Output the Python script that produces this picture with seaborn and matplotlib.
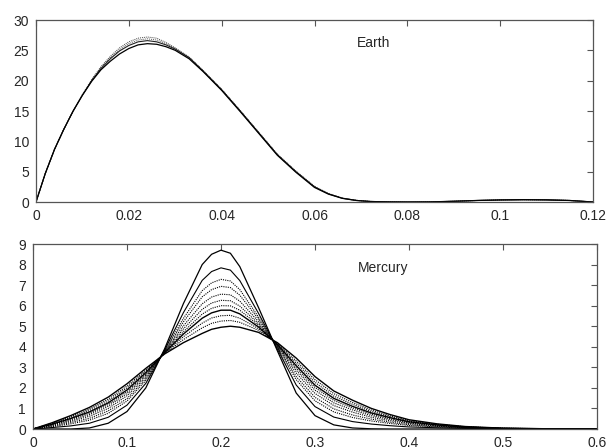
import matplotlib
matplotlib.use("Agg")
import matplotlib.pyplot as plt
import seaborn as sns

# Earth: eccentricity grid and a few curves from the band
earth_x = [0, 0.002, 0.004, 0.006, 0.008, 0.010, 0.012, 0.014, 0.016, 0.018,
           0.020, 0.022, 0.024, 0.026, 0.028, 0.030, 0.033, 0.036, 0.040, 0.044,
           0.048, 0.052, 0.056, 0.060, 0.063, 0.066, 0.069, 0.072, 0.076, 0.080,
           0.085, 0.090, 0.095, 0.100, 0.105, 0.110, 0.115, 0.120]
earth_low = [0, 4.7, 8.7, 12.0, 15.0, 17.6, 19.9, 21.8, 23.2, 24.4,
             25.3, 25.9, 26.1, 26.0, 25.6, 25.0, 23.6, 21.5, 18.4, 14.9,
             11.3, 7.7, 4.9, 2.4, 1.3, 0.6, 0.25, 0.08, 0.02, 0.0,
             0.02, 0.12, 0.25, 0.34, 0.38, 0.35, 0.25, 0.0]
earth_mid = [0, 4.7, 8.7, 12.0, 15.0, 17.6, 20.0, 22.0, 23.6, 24.9,
             25.8, 26.4, 26.6, 26.4, 25.9, 25.2, 23.8, 21.6, 18.5, 15.0,
             11.4, 7.8, 5.0, 2.5, 1.35, 0.62, 0.26, 0.09, 0.02, 0.0,
             0.02, 0.12, 0.25, 0.34, 0.38, 0.35, 0.25, 0.0]
earth_high = [0, 4.7, 8.7, 12.0, 15.0, 17.7, 20.2, 22.3, 24.0, 25.4,
              26.4, 27.0, 27.2, 27.0, 26.3, 25.4, 23.9, 21.7, 18.6, 15.1,
              11.5, 7.9, 5.1, 2.6, 1.4, 0.65, 0.28, 0.1, 0.03, 0.0,
              0.02, 0.12, 0.25, 0.34, 0.38, 0.35, 0.25, 0.0]
earth_upper = [0, 4.7, 8.7, 12.0, 15.0, 17.7, 20.1, 22.2, 23.8, 25.1,
               26.1, 26.7, 26.9, 26.7, 26.1, 25.3, 23.8, 21.6, 18.5, 15.0,
               11.4, 7.8, 5.0, 2.5, 1.35, 0.63, 0.27, 0.09, 0.02, 0.0,
               0.02, 0.12, 0.25, 0.34, 0.38, 0.35, 0.25, 0.0]

# Mercury: eccentricity grid and curves from tallest to widest
merc_x = [0, 0.02, 0.04, 0.06, 0.08, 0.10, 0.12, 0.14, 0.16, 0.18,
          0.19, 0.20, 0.21, 0.22, 0.24, 0.26, 0.28, 0.30, 0.32, 0.34,
          0.36, 0.38, 0.40, 0.43, 0.46, 0.50, 0.55, 0.60]
merc_a = [0, 0, 0, 0.05, 0.28, 0.85, 2.0, 3.9, 6.1, 8.0,
          8.5, 8.7, 8.55, 7.9, 5.9, 3.8, 1.75, 0.65, 0.2, 0.05,
          0.01, 0, 0, 0, 0, 0, 0, 0]
merc_b = [0, 0.07, 0.15, 0.28, 0.57, 1.16, 2.22, 3.84, 5.66, 7.23,
          7.66, 7.84, 7.73, 7.22, 5.62, 3.89, 2.14, 1.09, 0.58, 0.36,
          0.24, 0.16, 0.10, 0.06, 0.03, 0.01, 0, 0]
merc_c = [0, 0.11, 0.25, 0.43, 0.76, 1.36, 2.36, 3.8, 5.38, 6.73,
          7.11, 7.28, 7.2, 6.78, 5.44, 3.95, 2.4, 1.37, 0.83, 0.56,
          0.39, 0.27, 0.17, 0.1, 0.05, 0.02, 0, 0]
merc_d = [0, 0.14, 0.31, 0.52, 0.88, 1.48, 2.45, 3.78, 5.21, 6.43,
          6.78, 6.94, 6.88, 6.51, 5.34, 3.99, 2.55, 1.54, 0.98, 0.68,
          0.48, 0.33, 0.21, 0.12, 0.06, 0.02, 0, 0]
merc_e = [0, 0.17, 0.37, 0.62, 1.0, 1.62, 2.54, 3.76, 5.02, 6.09,
          6.42, 6.56, 6.53, 6.22, 5.22, 4.03, 2.72, 1.73, 1.14, 0.82,
          0.57, 0.4, 0.26, 0.14, 0.07, 0.02, 0.01, 0]
merc_f = [0, 0.2, 0.42, 0.7, 1.11, 1.73, 2.62, 3.74, 4.87, 5.82,
          6.13, 6.26, 6.24, 5.98, 5.12, 4.06, 2.86, 1.89, 1.27, 0.93,
          0.65, 0.46, 0.29, 0.16, 0.08, 0.03, 0.01, 0]
merc_g = [0, 0.22, 0.47, 0.77, 1.19, 1.82, 2.68, 3.72, 4.73, 5.59,
          5.87, 6.0, 5.99, 5.78, 5.04, 4.09, 2.97, 2.02, 1.39, 1.02,
          0.72, 0.5, 0.32, 0.18, 0.09, 0.03, 0.01, 0]
merc_h = [0, 0.23, 0.51, 0.83, 1.27, 1.9, 2.74, 3.71, 4.62, 5.39,
          5.65, 5.78, 5.78, 5.6, 4.96, 4.11, 3.08, 2.13, 1.49, 1.1,
          0.78, 0.55, 0.35, 0.2, 0.09, 0.03, 0.01, 0]
merc_i = [0, 0.26, 0.55, 0.9, 1.36, 2.0, 2.81, 3.69, 4.49, 5.15,
          5.4, 5.51, 5.53, 5.39, 4.88, 4.14, 3.2, 2.27, 1.6, 1.2,
          0.85, 0.6, 0.38, 0.21, 0.1, 0.03, 0.01, 0]
merc_j = [0, 0.28, 0.6, 0.97, 1.45, 2.09, 2.87, 3.67, 4.35, 4.92,
          5.14, 5.25, 5.28, 5.19, 4.8, 4.17, 3.31, 2.4, 1.72, 1.29,
          0.92, 0.64, 0.41, 0.23, 0.11, 0.04, 0.01, 0]
merc_l = [0, 0.3, 0.65, 1.05, 1.55, 2.2, 2.95, 3.65, 4.2, 4.65,
          4.85, 4.95, 5.0, 4.95, 4.7, 4.2, 3.45, 2.55, 1.85, 1.4,
          1.0, 0.7, 0.45, 0.25, 0.12, 0.04, 0.01, 0]

earth_ticks_x = [0, 0.02, 0.04, 0.06, 0.08, 0.1, 0.12]
earth_ticks_y = [0, 5, 10, 15, 20, 25, 30]
merc_ticks_x = [0, 0.1, 0.2, 0.3, 0.4, 0.5, 0.6]
merc_ticks_y = list(range(10))

sns.set_style("white")
plt.rcParams["font.family"] = ["Liberation Sans", "DejaVu Sans"]
plt.rcParams["font.size"] = 10

fig = plt.figure(figsize=(6.1, 4.48), dpi=100)
ax1 = fig.add_axes([36 / 610, 1 - 202 / 448, 557 / 610, 182 / 448])
ax2 = fig.add_axes([33 / 610, 1 - 429 / 448, 564 / 610, 185 / 448])

dotted = (0, (1, 1))
earth_curves = [(earth_upper, dotted, 0.7, "#555555"),
                (earth_high, dotted, 0.7, "#444444"),
                (earth_mid, "-", 0.8, "#222222"),
                (earth_low, "-", 0.9, "black")]
for ys, ls, lw, col in earth_curves:
    sns.lineplot(x=earth_x, y=ys, ax=ax1, color=col, lw=lw, linestyle=ls)

merc_curves = [(merc_a, "-", 0.9), (merc_b, "-", 0.8), (merc_c, dotted, 0.8),
               (merc_d, dotted, 0.8), (merc_e, dotted, 0.8), (merc_f, dotted, 0.8),
               (merc_g, dotted, 0.8), (merc_h, "-", 1.0), (merc_i, dotted, 0.8),
               (merc_j, dotted, 0.8), (merc_l, "-", 1.0)]
for ys, ls, lw in merc_curves:
    sns.lineplot(x=merc_x, y=ys, ax=ax2, color="black", lw=lw, linestyle=ls)

ax1.set_xlim(0, 0.12)
ax1.set_ylim(0, 30)
ax1.set_xticks(earth_ticks_x)
ax1.set_xticklabels(["0", "0.02", "0.04", "0.06", "0.08", "0.1", "0.12"])
ax1.set_yticks(earth_ticks_y)
ax1.text(0.0692, 26.2, "Earth", fontsize=10, va="center", ha="left")

ax2.set_xlim(0, 0.6)
ax2.set_ylim(0, 9)
ax2.set_xticks(merc_ticks_x)
ax2.set_xticklabels(["0", "0.1", "0.2", "0.3", "0.4", "0.5", "0.6"])
ax2.set_yticks(merc_ticks_y)
ax2.text(0.3457, 7.85, "Mercury", fontsize=10, va="center", ha="left")

for ax in (ax1, ax2):
    ax.tick_params(direction="in", length=4, width=0.8, color="#555555",
                   top=True, right=True, labelsize=10, pad=5)
    for sp in ax.spines.values():
        sp.set_color("#555555")
        sp.set_linewidth(0.9)
    ax.set_xlabel("")
    ax.set_ylabel("")

fig.savefig("out.png", dpi=100)
